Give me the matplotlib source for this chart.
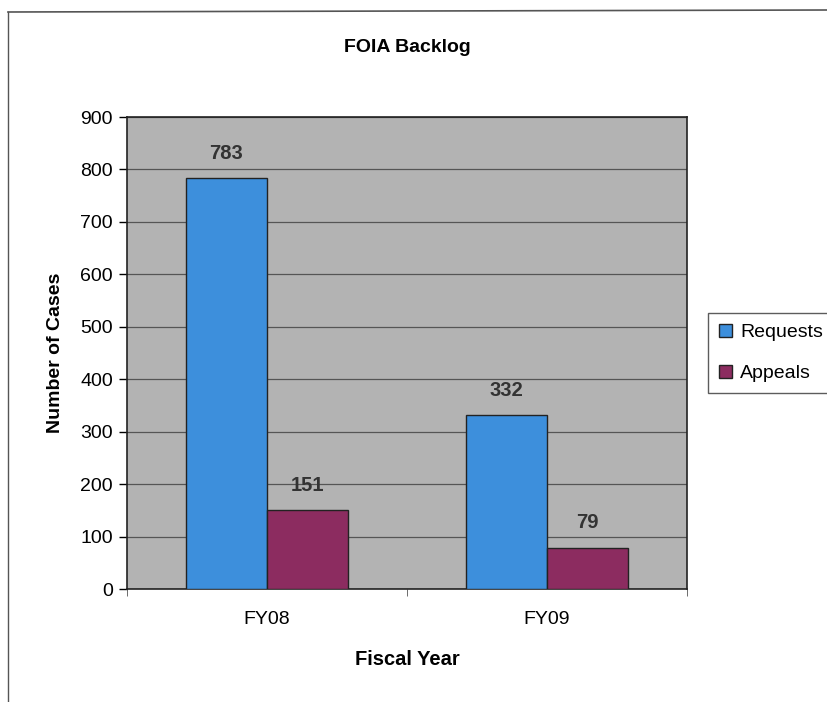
import numpy as np
import matplotlib
matplotlib.use("Agg")
import matplotlib.pyplot as plt
from matplotlib.lines import Line2D

plt.rcParams['font.family'] = ['Liberation Sans', 'DejaVu Sans']

# data
years = ["FY08", "FY09"]
requests = [783, 332]
appeals = [151, 79]
yticks = [0, 100, 200, 300, 400, 500, 600, 700, 800, 900]

blue = '#3d8fdc'
maroon = '#8c2c60'

fig = plt.figure(figsize=(8.28, 7.02), dpi=100)
ax = fig.add_axes([127/828, 1 - 589/702, 560/828, 472/702])
ax.set_facecolor('#b3b3b3')

x = np.arange(len(years))
w = 0.29
b1 = ax.bar(x - w/2, requests, w, color=blue, edgecolor='#222222', linewidth=1.0, label='Requests', zorder=3)
b2 = ax.bar(x + w/2, appeals, w, color=maroon, edgecolor='#222222', linewidth=1.0, label='Appeals', zorder=3)

for bars in (b1, b2):
    for r in bars:
        ax.annotate(str(int(r.get_height())), (r.get_x() + r.get_width()/2, r.get_height()),
                    xytext=(0, 11), textcoords='offset points', ha='center', va='bottom',
                    fontsize=14.5, fontweight='bold', color='#333333')

ax.set_xlim(-0.5, 1.5)
ax.set_ylim(0, 900)
ax.set_yticks(yticks)
ax.yaxis.grid(True, color='#555555', linewidth=0.9, zorder=0)
ax.set_xticks(x)
ax.set_xticklabels(years)
ax.set_xticks([-0.5, 0.5, 1.5], minor=True)
ax.tick_params(axis='x', which='major', length=0, pad=16, labelsize=14)
ax.tick_params(axis='x', which='minor', length=5, color='#555555')
ax.tick_params(axis='y', length=6, width=1, labelsize=14, pad=4)

for s in ax.spines.values():
    s.set_color('#222222')
    s.set_linewidth(1.2)

ax.set_xlabel('Fiscal Year', fontsize=14.5, fontweight='bold', labelpad=16)
ax.set_ylabel('Number of Cases', fontsize=14, fontweight='bold', labelpad=12)
fig.text(407/828, 1 - 48/702, 'FOIA Backlog', ha='center', va='center', fontsize=14, fontweight='bold')

leg = ax.legend(loc='center left', bbox_to_anchor=((708 - 127)/560, 0.5), fontsize=14,
                frameon=True, fancybox=False, edgecolor='#333333', handlelength=0.7,
                handleheight=0.7, handletextpad=0.4, borderpad=0.55, labelspacing=1.2,
                borderaxespad=0)
leg.get_frame().set_linewidth(1.0)

# outer chart border
fig.add_artist(Line2D([8/828, 8/828], [1 - 12/702, 0], color='#555555', linewidth=1.0))
fig.add_artist(Line2D([8/828, 1], [1 - 12/702, 1 - 10/702], color='#555555', linewidth=1.2))

fig.savefig('out.png', dpi=100)
